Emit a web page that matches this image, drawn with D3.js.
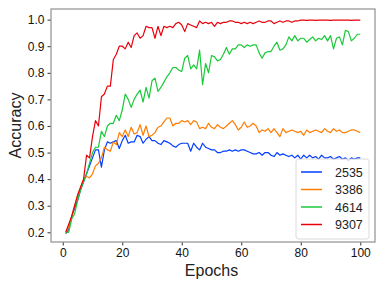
<!DOCTYPE html>
<html>
<head>
<meta charset="utf-8">
<script src="https://cdn.jsdelivr.net/npm/d3@7"></script>
<style>
  body { margin: 0; background: #fff; }
  svg { display: block; font-family: "Liberation Sans", Arial, sans-serif; }
</style>
</head>
<body>
<div id="chart"></div>
<script>
const epochs = d3.range(1, 101)
const seriesNames = ['2535', '3386', '4614', '9307']
const colours = ['#023eff', '#ff7c00', '#1ac938', '#e8000b']

const acc2535 = [
  0.195, 0.21, 0.26, 0.29, 0.32, 0.36, 0.39, 0.42, 0.45, 0.48,
  0.51, 0.51, 0.445, 0.51, 0.54, 0.535, 0.54, 0.545, 0.515, 0.545,
  0.565, 0.535, 0.54, 0.54, 0.565, 0.56, 0.535, 0.55, 0.56, 0.545,
  0.545, 0.535, 0.53, 0.545, 0.54, 0.535, 0.525, 0.52, 0.53, 0.535,
  0.535, 0.535, 0.505, 0.535, 0.52, 0.51, 0.535, 0.52, 0.515, 0.51,
  0.51, 0.50, 0.50, 0.505, 0.505, 0.51, 0.505, 0.51, 0.505, 0.51,
  0.51, 0.505, 0.50, 0.495, 0.495, 0.50, 0.49, 0.50, 0.50, 0.49,
  0.485, 0.50, 0.49, 0.495, 0.49, 0.485, 0.49, 0.48, 0.49, 0.475,
  0.49, 0.48, 0.49, 0.48, 0.485, 0.475, 0.49, 0.48, 0.48, 0.485,
  0.475, 0.48, 0.485, 0.475, 0.48, 0.47, 0.48, 0.475, 0.48, 0.48
]
const acc3386 = [
  0.195, 0.22, 0.26, 0.30, 0.34, 0.37, 0.40, 0.41, 0.405, 0.42,
  0.45, 0.46, 0.48, 0.52, 0.51, 0.505, 0.54, 0.53, 0.575, 0.56,
  0.585, 0.56, 0.595, 0.57, 0.575, 0.605, 0.565, 0.60, 0.56, 0.565,
  0.575, 0.595, 0.60, 0.615, 0.63, 0.63, 0.60, 0.61, 0.61, 0.62,
  0.615, 0.62, 0.605, 0.62, 0.615, 0.59, 0.595, 0.59, 0.61, 0.595,
  0.59, 0.605, 0.595, 0.59, 0.60, 0.61, 0.62, 0.605, 0.585, 0.595,
  0.615, 0.595, 0.60, 0.61, 0.60, 0.575, 0.585, 0.58, 0.59, 0.575,
  0.59, 0.575, 0.56, 0.59, 0.575, 0.58, 0.585, 0.58, 0.575, 0.58,
  0.565, 0.585, 0.575, 0.58, 0.585, 0.58, 0.575, 0.59, 0.58, 0.575,
  0.59, 0.58, 0.585, 0.575, 0.575, 0.58, 0.585, 0.585, 0.58, 0.575
]
const acc4614 = [
  0.20, 0.20, 0.25, 0.27, 0.32, 0.36, 0.39, 0.42, 0.46, 0.50,
  0.52, 0.52, 0.58, 0.56, 0.60, 0.61, 0.61, 0.64, 0.62, 0.66,
  0.72, 0.70, 0.67, 0.70, 0.72, 0.735, 0.69, 0.745, 0.705, 0.77,
  0.78, 0.73, 0.745, 0.765, 0.785, 0.80, 0.82, 0.82, 0.81, 0.805,
  0.855, 0.865, 0.815, 0.83, 0.815, 0.885, 0.755, 0.835, 0.80, 0.865,
  0.86, 0.845, 0.85, 0.87, 0.895, 0.87, 0.89, 0.89, 0.905, 0.905,
  0.895, 0.905, 0.90, 0.905, 0.905, 0.875, 0.855, 0.875, 0.88, 0.88,
  0.90, 0.915, 0.885, 0.89, 0.905, 0.935, 0.92, 0.94, 0.92, 0.93,
  0.93, 0.915, 0.925, 0.935, 0.92, 0.93, 0.925, 0.94, 0.92, 0.94,
  0.89, 0.93, 0.935, 0.905, 0.96, 0.955, 0.92, 0.93, 0.945, 0.945
]
const acc9307 = [
  0.20, 0.23, 0.26, 0.30, 0.34, 0.37, 0.40, 0.49, 0.48, 0.56,
  0.62, 0.60, 0.71, 0.72, 0.75, 0.75, 0.85, 0.87, 0.90, 0.90,
  0.89, 0.915, 0.895, 0.94, 0.95, 0.93, 0.94, 0.975, 0.97, 0.97,
  0.93, 0.975, 0.94, 0.975, 0.97, 0.975, 0.97, 0.985, 0.99, 0.98,
  0.955, 0.985, 0.98, 0.975, 0.97, 0.995, 0.985, 0.99, 0.985, 0.99,
  0.975, 0.99, 0.985, 0.99, 0.99, 0.995, 0.995, 0.99, 0.99, 0.985,
  0.99, 0.985, 0.99, 0.985, 0.99, 0.995, 0.99, 0.99, 0.995, 0.995,
  0.985, 0.99, 0.995, 0.99, 0.995, 0.995, 0.99, 0.995, 0.995, 0.998,
  0.998, 0.997, 0.998, 0.998, 0.997, 0.998, 0.998, 0.998, 0.998, 0.997,
  0.998, 0.998, 0.998, 0.998, 0.998, 0.998, 0.997, 0.998, 0.998, 0.998
]
const allSeries = [acc2535, acc3386, acc4614, acc9307]

const xTicks = [0, 20, 40, 60, 80, 100]
const yTicks = [0.2, 0.3, 0.4, 0.5, 0.6, 0.7, 0.8, 0.9, 1.0]

const W = 384, H = 288
const plotLeft = 51, plotRight = 375, plotTop = 9, plotBottom = 242

const svg = d3.select('#chart').append('svg')
    .attr('width', W)
    .attr('height', H)

const x = d3.scaleLinear().domain([-3.95, 104.95]).range([plotLeft, plotRight])
const y = d3.scaleLinear().domain([0.1635, 1.04]).range([plotBottom, plotTop])

// axes
svg.append('g')
    .attr('transform', `translate(0, ${plotBottom})`)
    .call(d3.axisBottom(x).tickValues(xTicks).tickSize(3.5).tickPadding(3).tickFormat(d3.format('d')))
    .call(g => g.select('.domain').remove())
    .call(g => g.selectAll('line').attr('stroke', '#333'))
    .call(g => g.selectAll('text').attr('font-size', 12).attr('fill', '#111').attr('font-family', 'Liberation Sans, Arial, sans-serif'))

svg.append('g')
    .attr('transform', `translate(${plotLeft}, 0)`)
    .call(d3.axisLeft(y).tickValues(yTicks).tickSize(3.5).tickPadding(3).tickFormat(d3.format('.1f')))
    .call(g => g.select('.domain').remove())
    .call(g => g.selectAll('line').attr('stroke', '#333'))
    .call(g => g.selectAll('text').attr('font-size', 12).attr('fill', '#111').attr('font-family', 'Liberation Sans, Arial, sans-serif'))

// lines
const line = d3.line()
    .x((d, i) => x(epochs[i]))
    .y(d => y(d))

svg.append('g')
    .selectAll('path')
    .data(allSeries)
    .enter()
    .append('path')
    .attr('d', line)
    .attr('fill', 'none')
    .attr('stroke', (d, i) => colours[i])
    .attr('stroke-width', 1.2)
    .attr('stroke-linejoin', 'round')

// frame
svg.append('rect')
    .attr('x', plotLeft)
    .attr('y', plotTop)
    .attr('width', plotRight - plotLeft)
    .attr('height', plotBottom - plotTop)
    .attr('fill', 'none')
    .attr('stroke', '#999')
    .attr('stroke-width', 1.3)

// axis labels
svg.append('text')
    .attr('x', x(50))
    .attr('y', 276)
    .attr('text-anchor', 'middle')
    .attr('font-size', 16)
    .attr('fill', '#222')
    .text('Epochs')

svg.append('text')
    .attr('transform', `translate(21, ${(plotTop + plotBottom) / 2}) rotate(-90)`)
    .attr('text-anchor', 'middle')
    .attr('font-size', 16)
    .attr('fill', '#222')
    .text('Accuracy')

// legend
const legend = svg.append('g').attr('transform', 'translate(296, 159)')
legend.append('rect')
    .attr('width', 73)
    .attr('height', 80)
    .attr('rx', 2.5)
    .attr('fill', 'white')
    .attr('fill-opacity', 0.8)
    .attr('stroke', '#d0d0d0')
    .attr('stroke-width', 0.8)

const entries = legend.selectAll('.entry')
    .data(seriesNames)
    .enter()
    .append('g')
    .attr('class', 'entry')
    .attr('transform', (d, i) => `translate(0, ${13 + i * 17.5})`)

entries.append('line')
    .attr('x1', 5)
    .attr('x2', 26)
    .attr('stroke', (d, i) => colours[i])
    .attr('stroke-width', 1.5)

entries.append('text')
    .attr('x', 39)
    .attr('dy', '0.36em')
    .attr('font-size', 12.5)
    .attr('fill', '#222')
    .text(d => d)
</script>
</body>
</html>
